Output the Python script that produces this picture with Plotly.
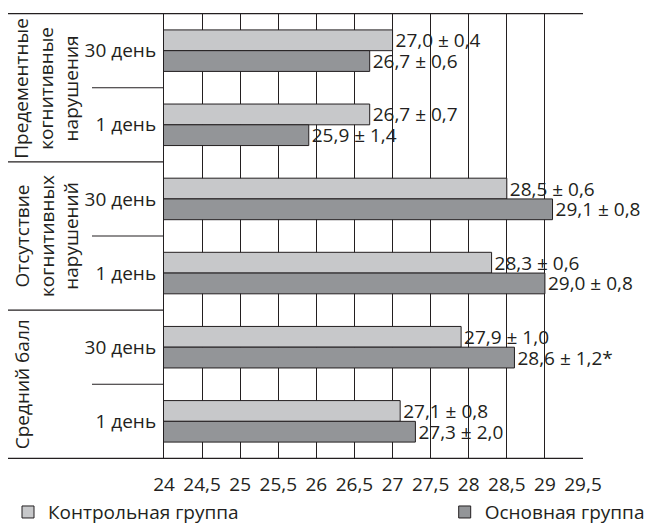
import plotly.graph_objects as go

# ---- data ----
groups = ["Предементные<br>когнитивные<br>нарушения",
          "Отсутствие<br>когнитивных<br>нарушений",
          "Средний балл"]
days = ["30 день", "1 день"]
categories = ["Предементные | 30 день", "Предементные | 1 день",
              "Отсутствие | 30 день", "Отсутствие | 1 день",
              "Средний | 30 день", "Средний | 1 день"]
tick_day_labels = ["30 день", "1 день", "30 день", "1 день", "30 день", "1 день"]

control_mean = [27.0, 26.7, 28.5, 28.3, 27.9, 27.1]
control_sd = [0.4, 0.7, 0.6, 0.6, 1.0, 0.8]
main_mean = [26.7, 25.9, 29.1, 29.0, 28.6, 27.3]
main_sd = [0.6, 1.4, 0.8, 0.8, 1.2, 2.0]
main_flag = ["", "", "", "", "*", ""]

x_ticks = [24, 24.5, 25, 25.5, 26, 26.5, 27, 27.5, 28, 28.5, 29, 29.5]
x_tick_labels = ["24", "24,5", "25", "25,5", "26", "26,5", "27", "27,5",
                 "28", "28,5", "29", "29,5"]

series_names = ["Контрольная группа", "Основная группа"]


def fmt(v):
    return f"{v:.1f}".replace(".", ",")


control_text = [f"{fmt(m)} ± {fmt(s)}" for m, s in zip(control_mean, control_sd)]
main_text = [f"{fmt(m)} ± {fmt(s)}{f}" for m, s, f in zip(main_mean, main_sd, main_flag)]

INK = "#231f20"
FONT = "Open Sans"
FS = 19

fig = go.Figure()
fig.add_trace(go.Bar(
    y=categories, x=control_mean, orientation="h", name=series_names[0],
    marker=dict(color="#c7c8ca", line=dict(color=INK, width=1)),
    text=control_text, textposition="outside", constraintext="none",
    cliponaxis=False, textfont=dict(size=FS, color=INK, family=FONT),
    legend="legend",
))
fig.add_trace(go.Bar(
    y=categories, x=main_mean, orientation="h", name=series_names[1],
    marker=dict(color="#939598", line=dict(color=INK, width=1)),
    text=main_text, textposition="outside", constraintext="none",
    cliponaxis=False, textfont=dict(size=FS, color=INK, family=FONT),
    legend="legend2",
))

# page body adds an 8px offset; figure is sized to fit the window
W, H = 646, 516
L, T = 156, 5
R = W - 575
B = H - 451
pw = W - L - R
left_edge = (0 - L) / pw
sub_edge = (84 - L) / pw

shapes = []
for yv in (-0.5, len(categories) - 0.5):
    shapes.append(dict(type="line", xref="paper", yref="y", x0=left_edge, x1=1,
                       y0=yv, y1=yv, line=dict(color=INK, width=1.2)))
for yv in (1.5, 3.5):
    shapes.append(dict(type="line", xref="paper", yref="y", x0=left_edge, x1=0,
                       y0=yv, y1=yv, line=dict(color=INK, width=1.2)))
for yv in (0.5, 2.5, 4.5):
    shapes.append(dict(type="line", xref="paper", yref="y", x0=sub_edge, x1=0,
                       y0=yv, y1=yv, line=dict(color=INK, width=1.2)))

annotations = []
group_x = [(38 - L) / pw, (38 - L) / pw, (14 - L) / pw]
for i, g in enumerate(groups):
    annotations.append(dict(text=g, xref="paper", yref="y", x=group_x[i], y=2 * i + 0.5,
                            textangle=-90, showarrow=False, xanchor="center", yanchor="middle",
                            font=dict(size=FS, color=INK, family=FONT)))

legend_common = dict(orientation="h", xref="container", yref="container",
                     yanchor="middle", xanchor="left", y=0.023, itemwidth=30,
                     font=dict(size=FS, color=INK, family=FONT),
                     bgcolor="rgba(0,0,0,0)")

fig.update_layout(
    width=W, height=H,
    margin=dict(l=L, r=R, t=T, b=B, autoexpand=False),
    plot_bgcolor="white", paper_bgcolor="white",
    barmode="group", bargap=0.44, bargroupgap=0,
    font=dict(family=FONT, size=FS, color=INK),
    shapes=shapes, annotations=annotations,
    legend=dict(x=-0.016, **legend_common),
    legend2=dict(x=0.676, **legend_common),
    showlegend=True,
)
fig.update_xaxes(range=[24, 29.5], tickvals=x_ticks, ticktext=x_tick_labels,
                 showgrid=True, gridcolor=INK, gridwidth=1, zeroline=False,
                 showline=False, ticks="", ticklabelstandoff=12, automargin=False,
                 tickfont=dict(size=FS, color=INK, family=FONT))
fig.update_yaxes(autorange="reversed", tickvals=categories, ticktext=tick_day_labels,
                 showline=True, linecolor=INK, linewidth=1.2, ticks="",
                 ticklabelstandoff=3, showgrid=False, automargin=False,
                 tickfont=dict(size=FS, color=INK, family=FONT))

fig.write_html("out.html")
